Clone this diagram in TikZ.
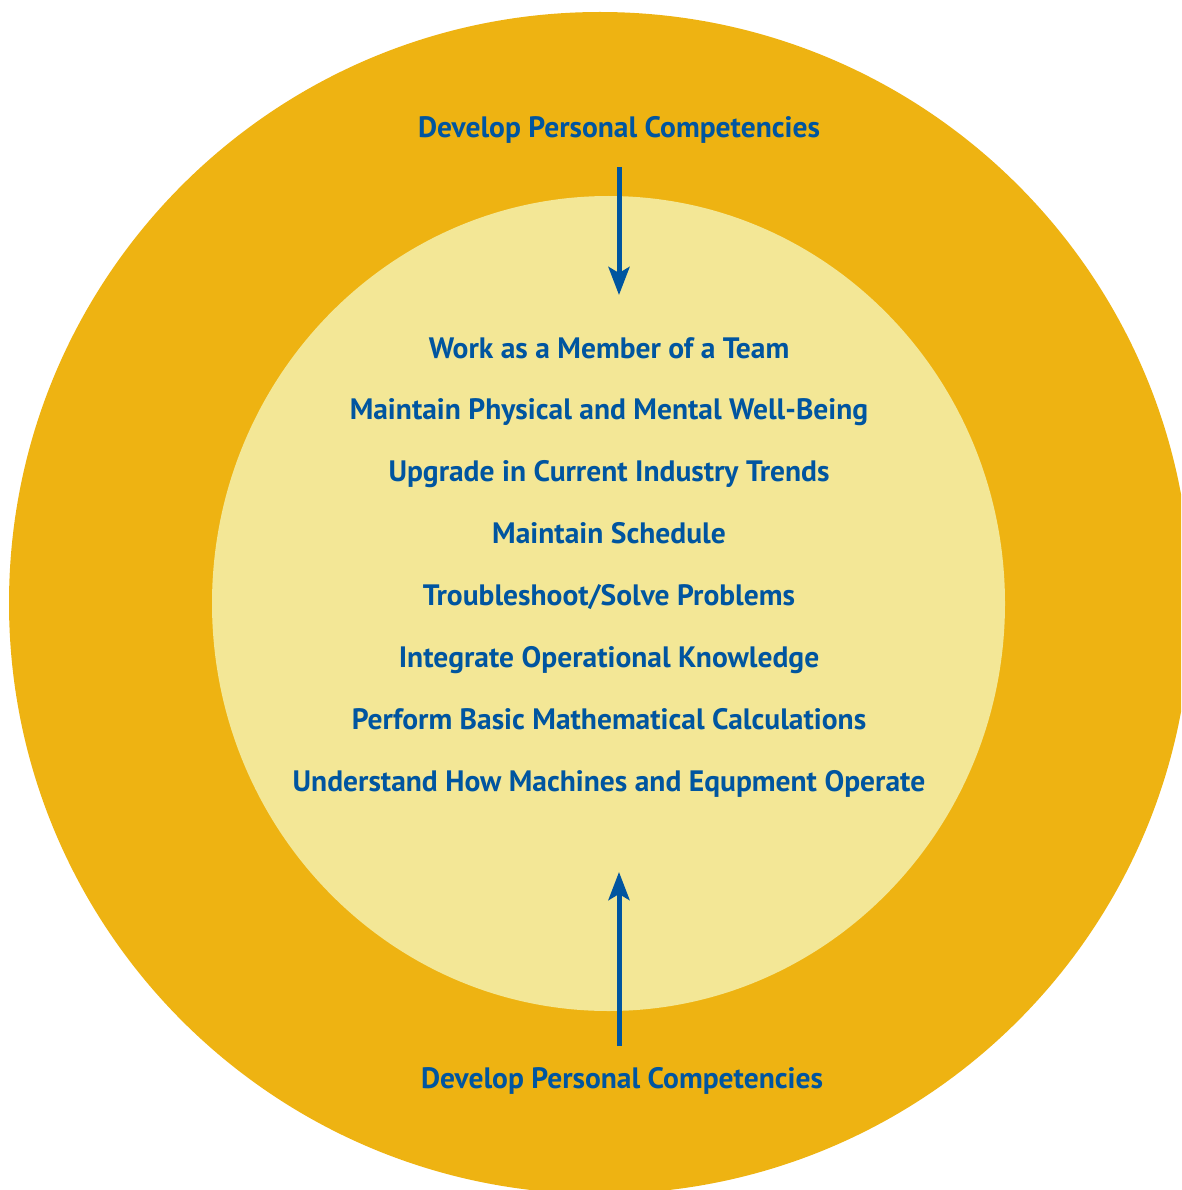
\documentclass[tikz,border=0pt]{standalone}
\usepackage{fontspec}
\setmainfont{PT Sans}
\usetikzlibrary{arrows.meta}
\definecolor{outerring}{HTML}{EEB312}
\definecolor{innerdisc}{HTML}{F3E796}
\definecolor{navy}{HTML}{0055A0}
\begin{document}
\begin{tikzpicture}[x=1pt,y=-1pt,
  lbl/.style={anchor=base,text=navy,font=\fontsize{29.5}{32}\selectfont\bfseries,inner sep=0pt},
  arr/.style={draw=navy,line width=5pt,-{Stealth[length=28pt,width=21pt,inset=6pt]}}]
\useasboundingbox (0,0) rectangle (1181,1190);
\clip (0,0) rectangle (1181,1190);
\fill[outerring] (600,603) circle (591);
\fill[innerdisc] (608.5,603.5) ellipse [x radius=396.5, y radius=407.5];
\node[lbl] (top) at (619,138) {Develop Personal Competencies};
\node[lbl] (bot) at (622,1088) {Develop Personal Competencies};
\node[lbl] (l1) at (609,358) {Work as a Member of a Team};
\node[lbl] (l2) at (609,419) {Maintain Physical and Mental Well-Being};
\node[lbl] (l3) at (609,481) {Upgrade in Current Industry Trends};
\node[lbl] (l4) at (609,543) {Maintain Schedule};
\node[lbl] (l5) at (609,605) {Troubleshoot/Solve Problems};
\node[lbl] (l6) at (609,667) {Integrate Operational Knowledge};
\node[lbl] (l7) at (609,729) {Perform Basic Mathematical Calculations};
\node[lbl] (l8) at (609,791) {Understand How Machines and Equpment Operate};
\coordinate (ta) at (619,167);
\coordinate (tb) at (619,295);
\coordinate (ba) at (619,1046);
\coordinate (bb) at (619,872);
\draw[arr] (ta) -- (tb);
\draw[arr] (ba) -- (bb);
\end{tikzpicture}
\end{document}
